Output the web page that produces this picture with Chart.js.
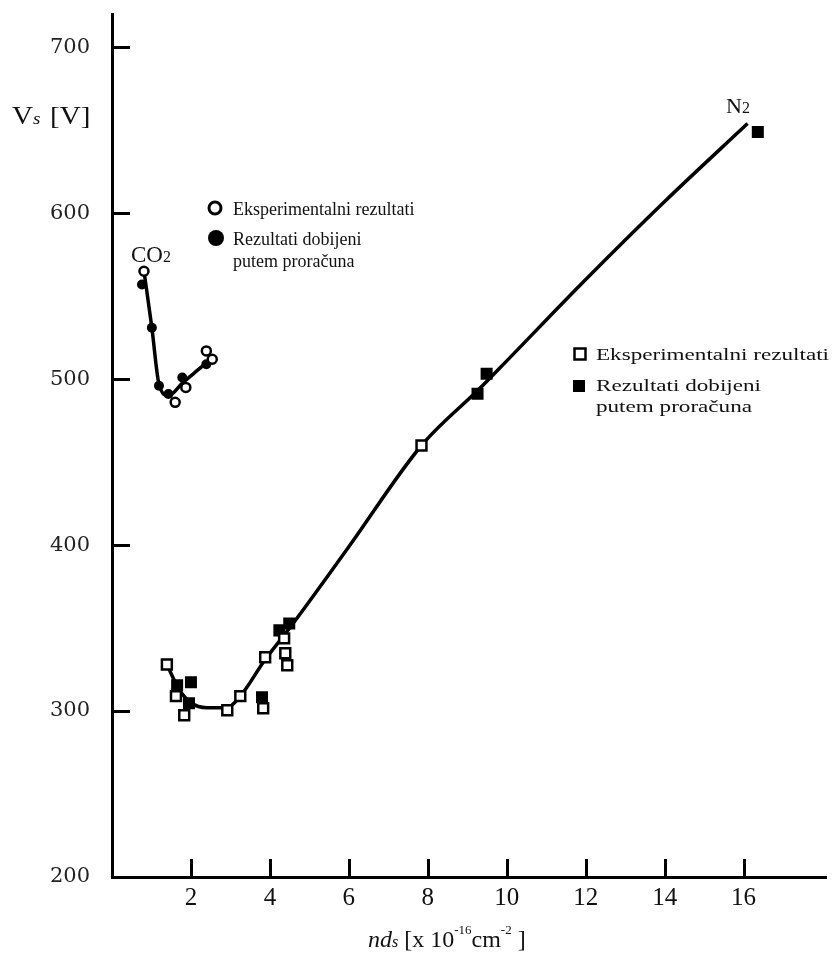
<!DOCTYPE html>
<html>
<head>
<meta charset="utf-8">
<script src="https://cdn.jsdelivr.net/npm/chart.js@4.4.1/dist/chart.umd.min.js"></script>
<style>
  html, body { margin: 0; padding: 0; background: #ffffff; }
  #wrap { width: 836px; height: 955px; position: relative; }
</style>
</head>
<body>
<div id="wrap"><canvas id="c"></canvas></div>
<script>
// ---- data ----
const xTicks = [2, 4, 6, 8, 10, 12, 14, 16];
const yTicks = [200, 300, 400, 500, 600, 700];

// CO2
const co2ExpX  = [0.81, 1.60, 1.87, 2.39, 2.54];
const co2ExpY  = [565, 486, 495, 517, 512];
const co2CalcX = [0.76, 1.01, 1.19, 1.43, 1.78, 2.39];
const co2CalcY = [557, 531, 496, 491, 501, 509];
const co2CurveX = [0.81, 1.01, 1.19, 1.43, 1.80, 2.20, 2.55];
const co2CurveY = [565, 531, 497, 490, 498, 506, 513];

// N2
const n2ExpX  = [1.39, 1.62, 1.83, 2.92, 3.25, 3.83, 3.88, 4.39, 4.44, 4.36, 7.84];
const n2ExpY  = [328, 309, 297.5, 300.5, 309, 301.7, 332.4, 334.8, 327.6, 343.8, 460];
const n2CalcX = [1.65, 2.00, 1.95, 3.80, 4.24, 4.49, 9.26, 9.49, 16.36];
const n2CalcY = [315.5, 317.3, 304.7, 308.3, 348.6, 352.8, 491.2, 503.2, 648.9];
const n2CurveX = [1.39, 1.70, 2.00, 2.40, 2.90, 3.25, 3.88, 4.50, 6.00, 7.84, 9.30, 10, 12, 14, 16.1];
const n2CurveY = [328, 313, 305, 302, 302, 309, 331, 350, 399, 460, 494, 511, 560, 607, 654];

const legendExp = "Eksperimentalni rezultati";
const legendCalc1 = "Rezultati dobijeni";
const legendCalc2 = "putem proračuna";

function pts(xs, ys) { return xs.map((x, i) => ({ x: x, y: ys[i] })); }

const SERIF = '"Liberation Serif", "Times New Roman", serif';
const WSERIF = '"DejaVu Serif", serif';

function drawRuns(ctx, x, y, runs, sx) {
  sx = sx || 1;
  ctx.save();
  ctx.translate(x, y);
  ctx.scale(sx, 1);
  let cx = 0;
  for (const r of runs) {
    ctx.font = r.font;
    ctx.fillText(r.t, cx, (r.dy || 0));
    cx += ctx.measureText(r.t).width + (r.gap || 0);
  }
  ctx.restore();
}
function stretchText(ctx, t, x, y, font, sx) {
  ctx.save();
  ctx.translate(x, y);
  ctx.scale(sx, 1);
  ctx.font = font;
  ctx.fillText(t, 0, 0);
  ctx.restore();
}

const decorPlugin = {
  id: 'decor',
  afterDraw(chart) {
    const ctx = chart.ctx;
    const xs = chart.scales.x, ys = chart.scales.y;
    const area = chart.chartArea;
    ctx.save();
    ctx.strokeStyle = '#000';
    ctx.lineWidth = 3;
    ctx.lineCap = 'butt';
    // inward y ticks
    yTicks.forEach(v => {
      if (v === 200) return;
      const py = Math.round(ys.getPixelForValue(v)) + 0.5;
      ctx.beginPath(); ctx.moveTo(area.left, py); ctx.lineTo(area.left + 18, py); ctx.stroke();
    });
    // upward x ticks
    xTicks.forEach(v => {
      const px = Math.round(xs.getPixelForValue(v)) + 0.5;
      ctx.beginPath(); ctx.moveTo(px, area.bottom); ctx.lineTo(px, area.bottom - 18); ctx.stroke();
    });

    ctx.fillStyle = '#111';
    ctx.textBaseline = 'alphabetic';
    ctx.textAlign = 'left';
    // Y axis title
    drawRuns(ctx, 12, 124, [
      { t: 'V', font: '26px ' + SERIF },
      { t: 's', font: 'italic 17px ' + SERIF, gap: 2 },
      { t: ' [V]', font: '26px ' + SERIF }
    ], 1.12);
    // X axis title
    drawRuns(ctx, 368, 947, [
      { t: 'nd', font: 'italic 24px ' + SERIF },
      { t: 's', font: 'italic 16px ' + SERIF },
      { t: ' [x 10', font: '24px ' + SERIF },
      { t: '-16', font: '13px ' + SERIF, dy: -13 },
      { t: 'cm', font: '24px ' + SERIF },
      { t: '-2', font: '13px ' + SERIF, dy: -13 },
      { t: ' ]', font: '24px ' + SERIF }
    ]);
    // Series labels
    drawRuns(ctx, 131, 262, [
      { t: 'CO', font: '23px ' + SERIF },
      { t: '2', font: '16px ' + SERIF }
    ]);
    drawRuns(ctx, 726, 113, [
      { t: 'N', font: '22px ' + SERIF },
      { t: '2', font: '16px ' + SERIF }
    ]);

    // CO2 legend
    ctx.lineWidth = 3;
    ctx.beginPath(); ctx.arc(215, 208, 6, 0, Math.PI * 2);
    ctx.fillStyle = '#fff'; ctx.fill(); ctx.stroke();
    ctx.fillStyle = '#000';
    ctx.beginPath(); ctx.arc(216, 238, 8, 0, Math.PI * 2); ctx.fill();
    ctx.fillStyle = '#111';
    ctx.font = '18px ' + SERIF;
    ctx.fillText(legendExp, 233, 215);
    ctx.fillText(legendCalc1, 233, 245);
    ctx.fillText(legendCalc2, 233, 267);

    // N2 legend
    ctx.lineWidth = 2.5;
    ctx.strokeRect(574.5, 348.5, 11, 11);
    ctx.fillStyle = '#000';
    ctx.fillRect(573, 380, 12, 12);
    ctx.fillStyle = '#111';
    const f2 = '17px ' + SERIF;
    stretchText(ctx, legendExp, 596, 360, f2, 1.36);
    stretchText(ctx, legendCalc1, 596, 391, f2, 1.36);
    stretchText(ctx, legendCalc2, 596, 412, f2, 1.36);
    ctx.restore();
  }
};

const cfg = {
  type: 'scatter',
  data: {
    datasets: [
      { label: 'CO2 curve', data: pts(co2CurveX, co2CurveY), showLine: true, borderColor: '#000', borderWidth: 3.5,
        pointRadius: 0, cubicInterpolationMode: 'monotone', order: 5 },
      { label: 'N2 curve', data: pts(n2CurveX, n2CurveY), showLine: true, borderColor: '#000', borderWidth: 3.5,
        pointRadius: 0, cubicInterpolationMode: 'monotone', order: 5 },
      { label: 'CO2 calc', data: pts(co2CalcX, co2CalcY), pointStyle: 'circle', pointRadius: 5,
        backgroundColor: '#000', borderColor: '#000', borderWidth: 0, order: 3 },
      { label: 'CO2 exp', data: pts(co2ExpX, co2ExpY), pointStyle: 'circle', pointRadius: 4.5,
        backgroundColor: '#fff', borderColor: '#000', borderWidth: 2.5, order: 2 },
      { label: 'N2 calc', data: pts(n2CalcX, n2CalcY), pointStyle: 'rect', pointRadius: 8.5,
        backgroundColor: '#000', borderColor: '#000', borderWidth: 0, order: 3 },
      { label: 'N2 exp', data: pts(n2ExpX, n2ExpY), pointStyle: 'rect', pointRadius: 7,
        backgroundColor: '#fff', borderColor: '#000', borderWidth: 2.5, order: 2 }
    ]
  },
  options: {
    responsive: true,
    maintainAspectRatio: false,
    animation: false,
    events: [],
    layout: { padding: { top: 14, right: 8, left: 0, bottom: 0 } },
    plugins: { legend: { display: false }, tooltip: { enabled: false }, title: { display: false } },
    scales: {
      x: {
        type: 'linear', min: 0, max: 18.1,
        grid: { display: false, drawTicks: false },
        border: { display: true, color: '#000', width: 3 },
        ticks: {
          stepSize: 2, includeBounds: false, padding: 6, color: '#111',
          font: { family: SERIF, size: 25 },
          callback: v => (xTicks.includes(v) ? String(v) : '')
        },
        afterFit: s => { s.height = 78; s.paddingLeft = 0; s.paddingRight = 0; }
      },
      y: {
        type: 'linear', min: 200, max: 720,
        grid: { display: false, drawTicks: false },
        border: { display: true, color: '#000', width: 3 },
        ticks: {
          stepSize: 100, includeBounds: false, padding: 22, color: '#222',
          font: { family: WSERIF, size: 21 },
          callback: v => (yTicks.includes(v) ? String(v) : '')
        },
        afterFit: s => { s.width = 112; s.paddingTop = 0; s.paddingBottom = 0; }
      }
    }
  },
  plugins: [decorPlugin]
};

new Chart(document.getElementById('c'), cfg);
</script>
</body>
</html>
